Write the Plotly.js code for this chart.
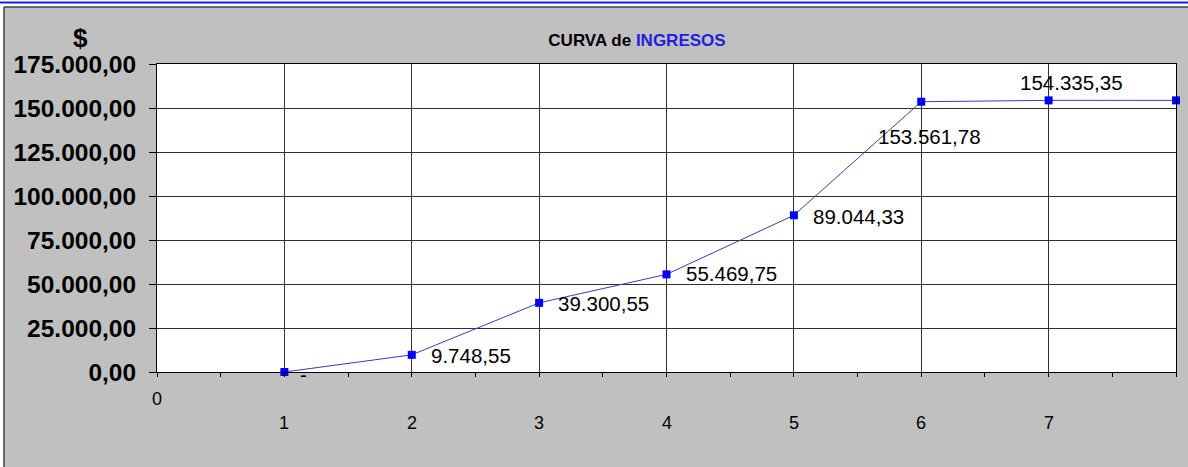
<!DOCTYPE html>
<html>
<head>
<meta charset="utf-8">
<script src="https://cdn.plot.ly/plotly-3.0.1.min.js"></script>
<style>html,body{margin:0;padding:0;background:#c0c0c0;}#chart{width:1188px;height:467px;}</style>
</head>
<body>
<div id="chart"></div>
<script>
// Data
const periods = [1, 2, 3, 4, 5, 6, 7, 8];
const ingresos = [0, 9748.55, 39300.55, 55469.75, 89044.33, 153561.78, 154335.35, 154335.35];
const dataLabels = ['-', '9.748,55', '39.300,55', '55.469,75', '89.044,33', '153.561,78', '154.335,35', ''];
const xTickLabels = ['0', '1', '2', '3', '4', '5', '6', '7'];
const xTickPos = [0, 1, 2, 3, 4, 5, 6, 7];

// Label placement styles (pixel offsets)
const labelStyle = [
  {xa: 'left', dx: 14, dy: -2},
  {xa: 'left', dx: 17, dy: -1},
  {xa: 'left', dx: 17, dy: -1},
  {xa: 'left', dx: 17, dy: 1},
  {xa: 'left', dx: 17, dy: -1},
  {xa: 'center', dx: 8, dy: -35},
  {xa: 'center', dx: 23, dy: 18},
  {xa: 'center', dx: 0, dy: 0}
];

const FONT = 'Liberation Sans, Arial, sans-serif';
const PL = 157, PT = 64, PW = 1019, PH = 308;
const px2x = p => (p - PL) / PW;
const px2y = p => (PT + PH - p) / PH;

const annotations = [];
periods.forEach((p, i) => {
  if (!dataLabels[i]) return;
  const s = labelStyle[i];
  annotations.push({
    x: p, y: ingresos[i], xref: 'x', yref: 'y', text: dataLabels[i],
    showarrow: false, xanchor: s.xa, yanchor: 'middle', xshift: s.dx, yshift: s.dy,
    font: {family: FONT, size: 20.5, color: '#000'}
  });
});
xTickLabels.forEach((t, i) => {
  annotations.push({
    x: xTickPos[i], y: i === 0 ? px2y(399) : px2y(423), xref: 'x', yref: 'paper',
    text: t, showarrow: false, xanchor: 'center', yanchor: 'middle',
    font: {family: FONT, size: 18, color: '#000'}
  });
});
annotations.push({
  x: px2x(80), y: px2y(38), xref: 'paper', yref: 'paper', text: '<b>$</b>',
  showarrow: false, xanchor: 'center', yanchor: 'middle',
  font: {family: FONT, size: 26, color: '#000'}
});

const shapes = [
  {type: 'rect', xref: 'paper', yref: 'paper', x0: px2x(0), x1: px2x(1188), y0: px2y(7), y1: px2y(0), fillcolor: '#ffffff', line: {width: 0}, layer: 'below'},
  {type: 'rect', xref: 'paper', yref: 'paper', x0: px2x(0), x1: px2x(4), y0: px2y(467), y1: px2y(0), fillcolor: '#ffffff', line: {width: 0}, layer: 'below'},
  {type: 'line', xref: 'paper', yref: 'paper', x0: px2x(0), x1: px2x(1188), y0: px2y(2.5), y1: px2y(2.5), line: {color: '#1a1aff', width: 2}},
  {type: 'line', xref: 'paper', yref: 'paper', x0: px2x(4), x1: px2x(1188), y0: px2y(7), y1: px2y(7), line: {color: '#404040', width: 1.5}},
  {type: 'line', xref: 'paper', yref: 'paper', x0: px2x(4), x1: px2x(4), y0: px2y(7), y1: px2y(467), line: {color: '#404040', width: 1.5}}
];

const trace = {
  x: periods, y: ingresos, type: 'scatter', mode: 'lines+markers',
  line: {color: '#3c3cb4', width: 1},
  marker: {symbol: 'square', size: 8, color: '#0000ff', line: {width: 0}},
  cliponaxis: false, hoverinfo: 'skip'
};

const layout = {
  width: 1188, height: 467,
  margin: {l: PL, r: 1188 - PL - PW, t: PT, b: 467 - PT - PH, pad: 0},
  paper_bgcolor: '#c0c0c0', plot_bgcolor: '#ffffff',
  separators: ',.',
  showlegend: false,
  title: {
    text: '<b>CURVA de <span style="color:#2020dd">INGRESOS</span></b>',
    x: 637 / 1188, xref: 'container', xanchor: 'center',
    y: 1 - 40 / 467, yref: 'container', yanchor: 'middle',
    font: {family: FONT, size: 17, color: '#000'}
  },
  xaxis: {
    range: [0, 8], tickvals: [1, 2, 3, 4, 5, 6, 7], showticklabels: false,
    ticks: 'outside', ticklen: 4, tickcolor: '#000',
    showgrid: true, gridcolor: '#303030', gridwidth: 1, zeroline: false,
    showline: true, linecolor: '#000', linewidth: 1, mirror: true,
    minor: {dtick: 0.5, tick0: 0.5, ticks: 'outside', ticklen: 4, tickcolor: '#000', showgrid: false},
    fixedrange: true
  },
  yaxis: {
    range: [0, 175000], dtick: 25000, tick0: 0, tickformat: ',.2f',
    ticks: 'outside', ticklen: 7, tickcolor: '#000',
    tickfont: {family: FONT, size: 24.5, color: '#000', weight: 'bold'},
    ticklabelstandoff: 8,
    showgrid: true, gridcolor: '#303030', gridwidth: 1, zeroline: false,
    showline: true, linecolor: '#000', linewidth: 1, mirror: true,
    fixedrange: true
  },
  annotations: annotations,
  shapes: shapes
};

Plotly.newPlot('chart', [trace], layout, {displayModeBar: false, staticPlot: true});
</script>
</body>
</html>
